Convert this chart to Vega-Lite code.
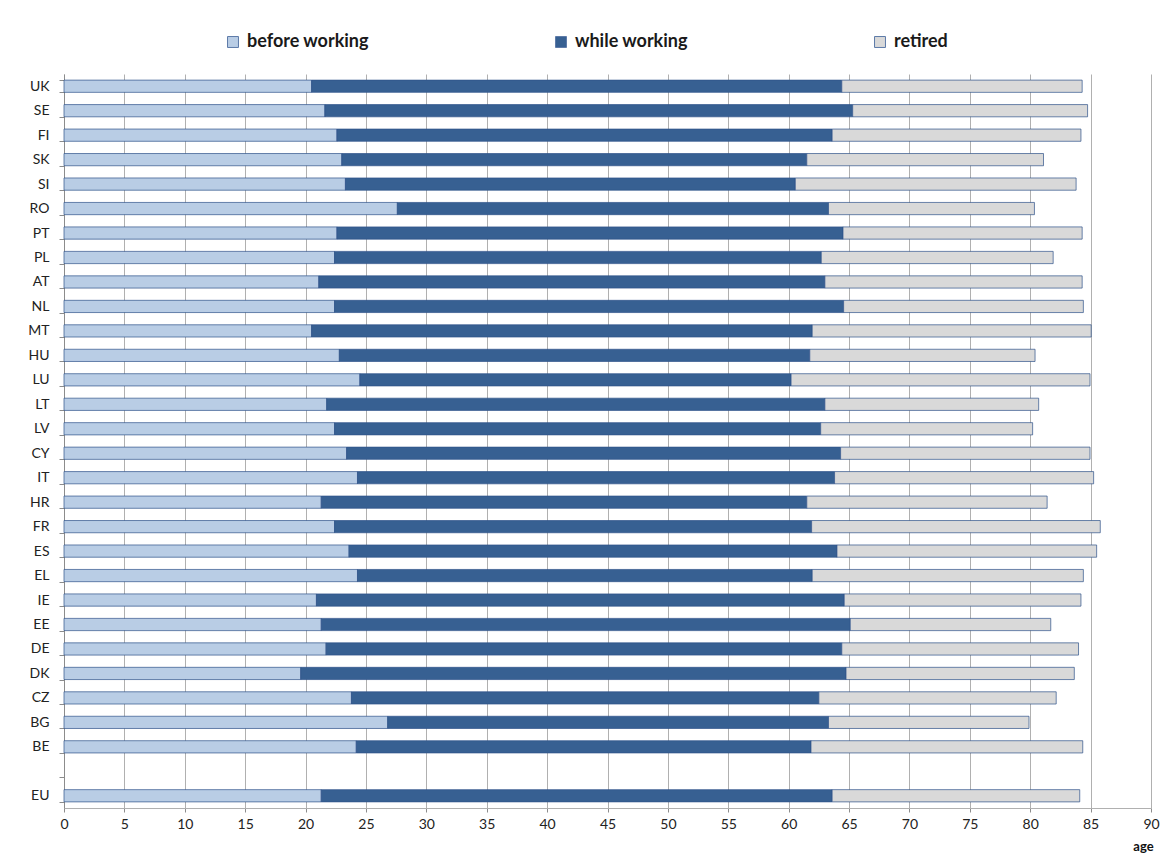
{
  "$schema": "https://vega.github.io/schema/vega-lite/v6.json",
  "width": 1087,
  "height": 734,
  "autosize": {"type": "none"},
  "padding": {"left": 64, "top": 74, "right": 12, "bottom": 46},
  "background": "white",
  "config": {"view": {"stroke": null}, "font": "Lato"},
  "data": {"values": [
    {"country":"UK","phase":"before working","start":0,"end":20.5},{"country":"UK","phase":"while working","start":20.5,"end":64.4},{"country":"UK","phase":"retired","start":64.4,"end":84.3},
    {"country":"SE","phase":"before working","start":0,"end":21.6},{"country":"SE","phase":"while working","start":21.6,"end":65.3},{"country":"SE","phase":"retired","start":65.3,"end":84.75},
    {"country":"FI","phase":"before working","start":0,"end":22.6},{"country":"FI","phase":"while working","start":22.6,"end":63.6},{"country":"FI","phase":"retired","start":63.6,"end":84.2},
    {"country":"SK","phase":"before working","start":0,"end":23.0},{"country":"SK","phase":"while working","start":23.0,"end":61.5},{"country":"SK","phase":"retired","start":61.5,"end":81.1},
    {"country":"SI","phase":"before working","start":0,"end":23.3},{"country":"SI","phase":"while working","start":23.3,"end":60.55},{"country":"SI","phase":"retired","start":60.55,"end":83.8},
    {"country":"RO","phase":"before working","start":0,"end":27.6},{"country":"RO","phase":"while working","start":27.6,"end":63.3},{"country":"RO","phase":"retired","start":63.3,"end":80.35},
    {"country":"PT","phase":"before working","start":0,"end":22.6},{"country":"PT","phase":"while working","start":22.6,"end":64.5},{"country":"PT","phase":"retired","start":64.5,"end":84.3},
    {"country":"PL","phase":"before working","start":0,"end":22.4},{"country":"PL","phase":"while working","start":22.4,"end":62.7},{"country":"PL","phase":"retired","start":62.7,"end":81.9},
    {"country":"AT","phase":"before working","start":0,"end":21.1},{"country":"AT","phase":"while working","start":21.1,"end":63.0},{"country":"AT","phase":"retired","start":63.0,"end":84.3},
    {"country":"NL","phase":"before working","start":0,"end":22.4},{"country":"NL","phase":"while working","start":22.4,"end":64.55},{"country":"NL","phase":"retired","start":64.55,"end":84.4},
    {"country":"MT","phase":"before working","start":0,"end":20.5},{"country":"MT","phase":"while working","start":20.5,"end":61.95},{"country":"MT","phase":"retired","start":61.95,"end":85.05},
    {"country":"HU","phase":"before working","start":0,"end":22.8},{"country":"HU","phase":"while working","start":22.8,"end":61.75},{"country":"HU","phase":"retired","start":61.75,"end":80.4},
    {"country":"LU","phase":"before working","start":0,"end":24.5},{"country":"LU","phase":"while working","start":24.5,"end":60.2},{"country":"LU","phase":"retired","start":60.2,"end":84.95},
    {"country":"LT","phase":"before working","start":0,"end":21.75},{"country":"LT","phase":"while working","start":21.75,"end":63.0},{"country":"LT","phase":"retired","start":63.0,"end":80.7},
    {"country":"LV","phase":"before working","start":0,"end":22.4},{"country":"LV","phase":"while working","start":22.4,"end":62.65},{"country":"LV","phase":"retired","start":62.65,"end":80.2},
    {"country":"CY","phase":"before working","start":0,"end":23.4},{"country":"CY","phase":"while working","start":23.4,"end":64.3},{"country":"CY","phase":"retired","start":64.3,"end":84.95},
    {"country":"IT","phase":"before working","start":0,"end":24.3},{"country":"IT","phase":"while working","start":24.3,"end":63.8},{"country":"IT","phase":"retired","start":63.8,"end":85.25},
    {"country":"HR","phase":"before working","start":0,"end":21.3},{"country":"HR","phase":"while working","start":21.3,"end":61.5},{"country":"HR","phase":"retired","start":61.5,"end":81.4},
    {"country":"FR","phase":"before working","start":0,"end":22.4},{"country":"FR","phase":"while working","start":22.4,"end":61.9},{"country":"FR","phase":"retired","start":61.9,"end":85.8},
    {"country":"ES","phase":"before working","start":0,"end":23.6},{"country":"ES","phase":"while working","start":23.6,"end":64.0},{"country":"ES","phase":"retired","start":64.0,"end":85.5},
    {"country":"EL","phase":"before working","start":0,"end":24.3},{"country":"EL","phase":"while working","start":24.3,"end":61.95},{"country":"EL","phase":"retired","start":61.95,"end":84.4},
    {"country":"IE","phase":"before working","start":0,"end":20.9},{"country":"IE","phase":"while working","start":20.9,"end":64.6},{"country":"IE","phase":"retired","start":64.6,"end":84.2},
    {"country":"EE","phase":"before working","start":0,"end":21.3},{"country":"EE","phase":"while working","start":21.3,"end":65.1},{"country":"EE","phase":"retired","start":65.1,"end":81.7},
    {"country":"DE","phase":"before working","start":0,"end":21.7},{"country":"DE","phase":"while working","start":21.7,"end":64.4},{"country":"DE","phase":"retired","start":64.4,"end":84.0},
    {"country":"DK","phase":"before working","start":0,"end":19.6},{"country":"DK","phase":"while working","start":19.6,"end":64.75},{"country":"DK","phase":"retired","start":64.75,"end":83.65},
    {"country":"CZ","phase":"before working","start":0,"end":23.8},{"country":"CZ","phase":"while working","start":23.8,"end":62.5},{"country":"CZ","phase":"retired","start":62.5,"end":82.15},
    {"country":"BG","phase":"before working","start":0,"end":26.8},{"country":"BG","phase":"while working","start":26.8,"end":63.3},{"country":"BG","phase":"retired","start":63.3,"end":79.9},
    {"country":"BE","phase":"before working","start":0,"end":24.2},{"country":"BE","phase":"while working","start":24.2,"end":61.85},{"country":"BE","phase":"retired","start":61.85,"end":84.35},
    {"country":"EU","phase":"before working","start":0,"end":21.3},{"country":"EU","phase":"while working","start":21.3,"end":63.6},{"country":"EU","phase":"retired","start":63.6,"end":84.1}
  ]},
  "mark": {"type": "bar", "stroke": "#2f528a", "strokeWidth": 1, "strokeOpacity": 0.7},
  "encoding": {
    "y": {
      "field": "country", "type": "nominal",
      "scale": {"domain": ["UK","SE","FI","SK","SI","RO","PT","PL","AT","NL","MT","HU","LU","LT","LV","CY","IT","HR","FR","ES","EL","IE","EE","DE","DK","CZ","BG","BE"," ","EU"], "paddingInner": 0.5, "paddingOuter": 0.25},
      "axis": {"title": null, "tickBand": "extent", "tickSize": 5, "tickColor": "#8c8c8c", "domainColor": "#8c8c8c", "labelFontSize": 14, "labelColor": "#222222", "labelPadding": 10, "grid": false}
    },
    "x": {
      "field": "start", "type": "quantitative",
      "scale": {"domain": [0, 90], "nice": false},
      "axis": {"values": [0,5,10,15,20,25,30,35,40,45,50,55,60,65,70,75,80,85,90], "labelFlush": false, "grid": true, "gridColor": "#b0b0b0", "domainColor": "#b0b0b0", "tickColor": "#8c8c8c", "tickSize": 4, "labelFontSize": 14, "labelColor": "#222222", "labelPadding": 5, "title": "age", "titleFontWeight": "bold", "titleFontSize": 13, "titleColor": "#111111", "titleX": 1079, "titleY": 32, "titleAlign": "center", "titleBaseline": "top"}
    },
    "x2": {"field": "end"},
    "color": {
      "field": "phase", "type": "nominal",
      "scale": {"domain": ["before working","while working","retired"], "range": ["#b9cde5","#376092","#d9d9d9"]},
      "legend": {"title": null, "orient": "none", "legendX": 160, "legendY": -41, "direction": "horizontal", "symbolType": "square", "symbolSize": 120, "symbolStrokeWidth": 1, "symbolStrokeColor": "#5d7aa8", "labelFontSize": 18, "labelFontWeight": "bold", "labelColor": "#1a1a1a", "labelOffset": 5, "columnPadding": 183}
    }
  }
}
